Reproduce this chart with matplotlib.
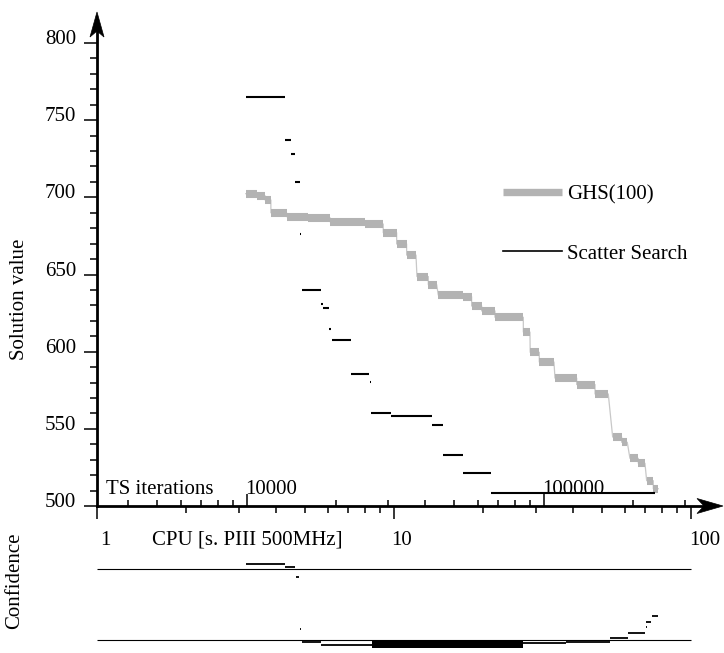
import numpy as np
import matplotlib
matplotlib.use('Agg')
import matplotlib.pyplot as plt
from matplotlib.lines import Line2D
from matplotlib.patches import Polygon
from matplotlib.transforms import ScaledTranslation, blended_transform_factory
from matplotlib.ticker import FixedLocator, NullFormatter

plt.rcParams['font.family'] = ['Liberation Serif', 'DejaVu Serif']
plt.rcParams['font.size'] = 15

# ---------------- data ----------------
# GHS(100): horizontal steps (CPU start, CPU end [s], solution value)
ghs_start = [3.17, 3.45, 3.68, 3.85, 4.35, 5.15, 6.09, 7.99, 9.20, 10.21,
             11.03, 11.95, 13.05, 14.10, 17.11, 18.26, 19.74, 21.88, 27.26, 28.75,
             30.85, 34.84, 41.23, 47.53, 54.5, 58.44, 62.3, 66.47, 70.93, 74.67]
ghs_end = [3.45, 3.68, 3.85, 4.35, 5.15, 6.09, 7.99, 9.20, 10.21, 11.03,
           11.86, 13.05, 13.92, 17.11, 18.26, 19.74, 21.88, 27.26, 28.7, 30.85,
           34.57, 41.23, 47.53, 52.67, 58.44, 61.03, 66.47, 70.0, 74.67, 77.6]
ghs_value = [702.4, 701.1, 698.3, 690.0, 687.5, 686.8, 684.2, 682.7, 677.1, 669.8,
             662.6, 648.7, 643.5, 636.7, 635.6, 629.6, 626.4, 622.3, 612.7, 599.6,
             593.3, 582.9, 578.7, 572.6, 544.7, 541.3, 530.9, 527.7, 516.4, 511.2]

# Scatter Search: horizontal steps
ss_start = [3.17, 4.30, 4.49, 4.64, 4.83, 4.89, 5.67, 5.78, 6.06, 6.20,
            7.19, 8.28, 8.40, 9.75, 13.39, 14.66, 17.11, 21.17]
ss_end = [4.30, 4.49, 4.66, 4.83, 4.87, 5.665, 5.75, 6.06, 6.16, 7.18,
          8.26, 8.40, 9.75, 13.39, 14.66, 17.11, 21.17, 75.6]
ss_value = [765.0, 737.0, 727.9, 710.1, 676.2, 640.0, 630.7, 628.1, 614.5, 607.6,
            585.5, 580.5, 560.1, 558.3, 552.5, 532.8, 521.6, 508.2]

# Confidence panel (0 = lower reference line, 1 = upper reference line)
conf_start = [3.18, 4.30, 4.67, 4.83, 4.89, 5.67, 27.1, 37.9, 53.4, 61.5, 70.3, 70.6, 73.8]
conf_end = [4.30, 4.64, 4.80, 4.87, 5.67, 8.41, 37.9, 53.4, 61.5, 70.0, 71.0, 73.2, 77.6]
conf_value = [1.071, 1.037, 0.887, 0.151, -0.028, -0.075, -0.047, -0.035, 0.024, 0.103,
              0.179, 0.259, 0.344]
conf_band_start, conf_band_end = 8.41, 27.1
conf_band_low, conf_band_high = -0.108, 0.0
conf_ref_levels = [0.0, 1.0]

# axes ticks / labels
y_major = [500, 550, 600, 650, 700, 750, 800]
y_minor = [v for v in range(510, 800, 10) if v % 50]
cpu_major = [1, 10, 100]
cpu_minor = [2, 3, 4, 5, 6, 7, 8, 9, 20, 30, 40, 50, 60, 70, 80, 90]
cpu_labels = ['1', '10', '100']
ts_major = [10000, 100000]
ts_minor = [4000, 5000, 6000, 7000, 8000, 9000,
            20000, 30000, 40000, 50000, 60000, 70000, 80000, 90000,
            200000, 300000]
ts_labels = ['10000', '100000']
CPU_AT_10000_IT = 3.19   # CPU seconds corresponding to 10000 TS iterations

X_MAX = 128.2
Y_MAX = 820.1

# ---------------- figure ----------------
W, H = 724, 653
fig = plt.figure(figsize=(W / 100, H / 100), dpi=100)


def px_rect(x0, y0, x1, y1):
    return [x0 / W, 1 - y1 / H, (x1 - x0) / W, (y1 - y0) / H]


def px(dx, dy):
    return ScaledTranslation(dx / 100, dy / 100, fig.dpi_scale_trans)


ax = fig.add_axes(px_rect(97, 12, 723, 506))
ax.set_xscale('log')
ax.set_xlim(1, X_MAX)
ax.set_ylim(500, Y_MAX)
ax.patch.set_visible(False)
for s in ['top', 'right']:
    ax.spines[s].set_visible(False)
for s in ['left', 'bottom']:
    ax.spines[s].set_linewidth(2.0)
ax.spines['left'].set_bounds(500, Y_MAX - 8)
ax.spines['bottom'].set_bounds(1, 118)

ax.set_yticks(y_major)
ax.yaxis.set_minor_locator(FixedLocator(y_minor))
ax.yaxis.set_major_formatter(NullFormatter())
ax.tick_params(axis='y', which='major', length=9.4, width=1.1, direction='out')
ax.tick_params(axis='y', which='minor', length=5.0, width=1.1, direction='out')

ax.xaxis.set_major_locator(FixedLocator(cpu_major))
ax.xaxis.set_minor_locator(FixedLocator(cpu_minor))
ax.xaxis.set_major_formatter(NullFormatter())
ax.xaxis.set_minor_formatter(NullFormatter())
ax.tick_params(axis='x', which='major', length=9.4, width=1.1, direction='out')
ax.tick_params(axis='x', which='minor', length=5.0, width=1.1, direction='out')

# TS iterations axis (ticks pointing up)
sec = ax.secondary_xaxis('bottom', functions=(lambda c: c * 10000 / CPU_AT_10000_IT,
                                              lambda t: t * CPU_AT_10000_IT / 10000))
sec.xaxis.set_major_locator(FixedLocator(ts_major))
sec.xaxis.set_minor_locator(FixedLocator(ts_minor))
sec.xaxis.set_major_formatter(NullFormatter())
sec.xaxis.set_minor_formatter(NullFormatter())
sec.tick_params(which='major', direction='in', length=8.4, width=1.1)
sec.tick_params(which='minor', direction='in', length=4.3, width=1.1)
sec.spines['bottom'].set_visible(False)

# y tick labels
ytr = blended_transform_factory(ax.transAxes, ax.transData)
for v in y_major:
    ax.text(0, v, str(v), transform=ytr + px(-21, -1), ha='right', va='baseline')

# CPU tick labels
xtr = blended_transform_factory(ax.transData, ax.transAxes)
cpu_dx = [3.5, -3, -1.5]
for v, lab, dx in zip(cpu_major, cpu_labels, cpu_dx):
    ax.text(v, 0, lab, transform=xtr + px(dx, -39), ha='left', va='baseline')
ax.text(0, 0, 'CPU [s. PIII 500MHz]', transform=ax.transAxes + px(55.5, -39),
        ha='left', va='baseline')

# TS labels
for v, lab in zip(ts_major, ts_labels):
    ax.text(v * CPU_AT_10000_IT / 10000, 0, lab, transform=xtr + px(-1, 12.5),
            ha='left', va='baseline')
ax.text(0, 0, 'TS iterations', transform=ax.transAxes + px(9.3, 12.5),
        ha='left', va='baseline')

# axis labels
fig.text(20 / W, 1 - 299.5 / H, 'Solution value', rotation=90, ha='center', va='center')
fig.text(15 / W, 1 - 581 / H, 'Confidence', rotation=90, ha='center', va='center')

# arrow heads


def arrow_head(tip, pts):
    tr = fig.dpi_scale_trans + ScaledTranslation(tip[0], tip[1], ax.transData)
    poly = Polygon(np.array(pts) / 100.0, closed=True, transform=tr,
                   facecolor='black', edgecolor='black', lw=0.5, clip_on=False)
    fig.add_artist(poly)


arrow_head((1, Y_MAX), [(0, 0), (-7, -25), (0, -19), (7, -25)])
arrow_head((X_MAX, 500), [(0, 0), (-26, 7.5), (-19, 0), (-26, -7.5)])

# ---- GHS(100) ----
GRAY = '#b3b3b3'
step_x = []
step_y = []
for s, e, v in zip(ghs_start, ghs_end, ghs_value):
    step_x += [s, e]
    step_y += [v, v]
ax.plot(step_x, step_y, color='#c8c8c8', lw=0.9, zorder=2)
ax.hlines(ghs_value, ghs_start, ghs_end, colors=GRAY, lw=5.8, zorder=3)

# ---- Scatter Search ----
ax.hlines(ss_value, ss_start, ss_end, colors='black', lw=1.5, zorder=4)

# legend
handles = [Line2D([], [], color=GRAY, lw=5.3, solid_capstyle='butt'),
           Line2D([], [], color='black', lw=1.2)]
ax.legend(handles, ['GHS(100)', 'Scatter Search'], loc='center left',
          bbox_to_anchor=((502.7 - 97) / 626, (506 - 224.2) / 494),
          frameon=False, handlelength=2.84, handletextpad=0.25, labelspacing=1.9,
          borderpad=0, borderaxespad=0, fontsize=15)

# ---------------- confidence panel ----------------
ax2 = fig.add_axes(px_rect(97, 558.7, 723, 650.6))
ax2.set_xscale('log')
ax2.set_xlim(1, X_MAX)
ax2.set_ylim(-0.15, 1.15)
ax2.axis('off')
ax2.hlines(conf_ref_levels, 1, 100, colors='black', lw=0.8)
ax2.hlines(conf_value, conf_start, conf_end, colors='black', lw=1.3)
ax2.fill_between([conf_band_start, conf_band_end], conf_band_low, conf_band_high,
                 color='black', lw=0)

fig.savefig('out.png', dpi=100)
